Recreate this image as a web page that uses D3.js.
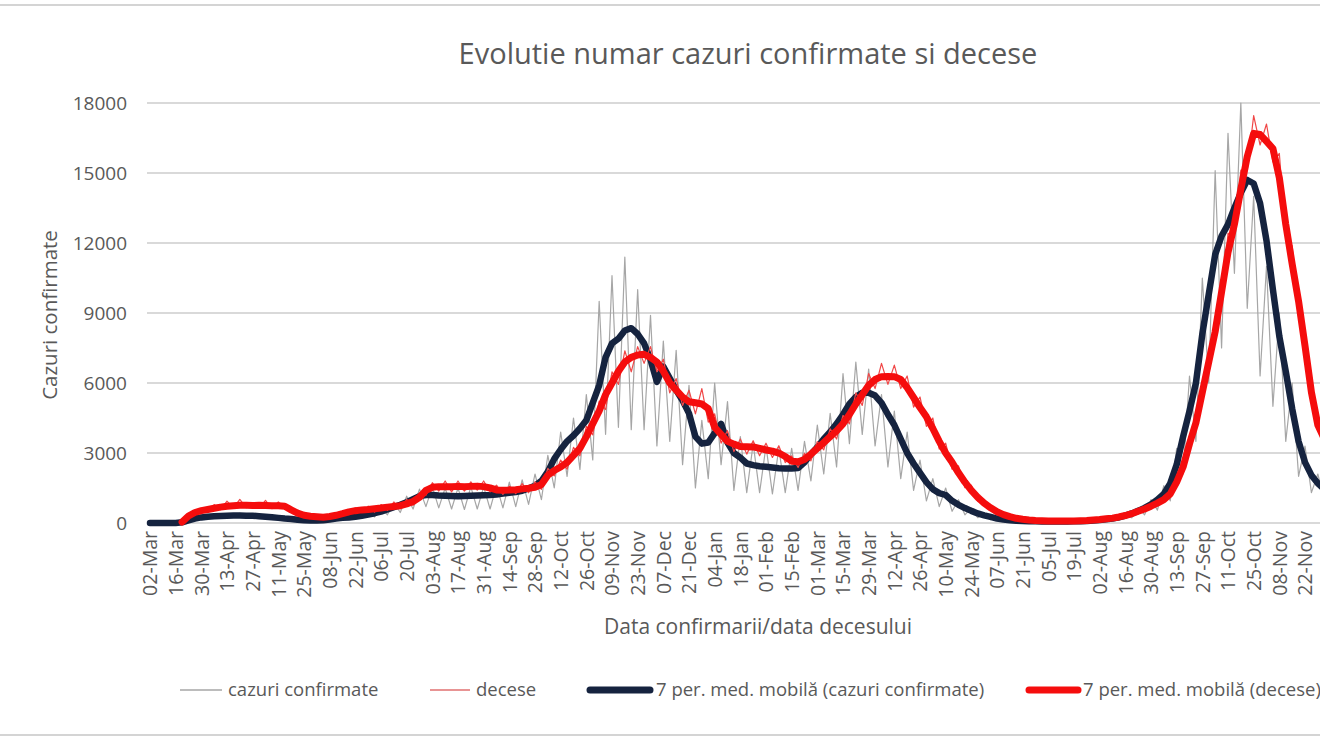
<!DOCTYPE html>
<html>
<head>
<meta charset="utf-8">
<script src="https://cdn.jsdelivr.net/npm/d3@7"></script>
<style>
  body { margin: 0; background: #fff; }
  svg { display: block; font-family: "Open Sans", sans-serif; }
</style>
</head>
<body>
<div id="chart"></div>
<script>
// one sample every 3.5 days, starting 02-Mar-2020
const stepDays = 3.5;

const tickLabels = ["02-Mar","16-Mar","30-Mar","13-Apr","27-Apr","11-May","25-May","08-Jun","22-Jun","06-Jul",
  "20-Jul","03-Aug","17-Aug","31-Aug","14-Sep","28-Sep","12-Oct","26-Oct","09-Nov","23-Nov",
  "07-Dec","21-Dec","04-Jan","18-Jan","01-Feb","15-Feb","01-Mar","15-Mar","29-Mar","12-Apr",
  "26-Apr","10-May","24-May","07-Jun","21-Jun","05-Jul","19-Jul","02-Aug","16-Aug","30-Aug",
  "13-Sep","27-Sep","11-Oct","25-Oct","08-Nov","22-Nov"];

const yTicks = [0, 3000, 6000, 9000, 12000, 15000, 18000];

// cazuri confirmate (daily, sampled)
const casesRaw = [0,0,2,5,15,40,160,150,300,200,
  380,220,400,250,420,230,380,200,350,180,
  290,130,230,100,170,80,150,80,200,120,
  300,160,350,200,460,260,650,350,880,450,
  1150,600,1450,700,1550,650,1500,600,1500,580,
  1550,600,1550,600,1600,650,1750,700,1850,800,
  2100,1000,2900,1500,3900,2000,4500,2300,5500,2700,
  9500,3800,10600,4100,11400,4000,10000,4000,8900,3300,
  7800,3500,7400,2500,5900,1500,4400,1900,6000,2500,
  5200,1400,3700,1300,3400,1300,3300,1250,3200,1300,
  3200,1400,3500,1800,4200,2100,4700,2400,6400,3400,
  6900,3800,6600,3300,5500,2400,4800,1900,3900,1400,
  2700,950,1900,700,1500,500,1000,350,650,230,
  420,140,240,80,150,55,115,45,90,35,
  80,30,80,35,90,45,115,60,170,90,
  240,130,410,220,660,350,1000,550,1600,950,
  3200,2100,6300,3500,10500,6000,15100,7500,16700,10700,
  18000,9200,14000,6300,11000,5000,9000,3500,6000,2000,
  3300,1300,2100,1000];

// decese (daily, sampled) - secondary axis
const deathsRaw = [null,null,null,null,null,1,10,11,17,13,
  22,16,26,18,28,18,24,18,27,17,
  25,18,17,10,12,6,10,5,10,7,
  14,10,18,13,20,13,22,15,25,17,
  28,21,36,33,48,38,50,37,50,38,
  49,39,50,37,45,34,44,35,47,36,
  49,40,65,56,75,64,90,80,115,105,
  145,135,180,165,205,180,210,190,210,180,
  195,155,172,140,158,130,160,120,130,95,
  110,85,100,82,98,80,95,78,92,72,
  80,66,83,74,97,87,112,100,128,118,
  155,140,178,160,190,165,188,160,175,138,
  150,115,125,88,95,64,68,42,45,26,
  28,15,16,8,9,4,5,3,4,2,
  3,2,3,2,3,2,4,3,5,4,
  7,6,10,10,16,15,23,21,32,31,
  55,60,104,110,168,180,245,262,345,340,
  420,420,485,450,475,430,440,340,330,250,
  230,145,130,95];

// 7 per. med. mobila (cazuri confirmate)
const casesAvg = [0,0,0,0,0,30,110,190,240,270,
  290,300,310,320,320,310,310,290,270,250,
  220,190,170,140,120,110,110,120,150,190,
  220,240,270,310,360,420,490,580,680,780,
  890,1020,1150,1200,1200,1180,1170,1160,1150,1160,
  1170,1180,1190,1200,1220,1260,1300,1330,1380,1480,
  1600,1800,2200,2750,3150,3500,3750,4050,4400,5150,
  5900,7100,7700,7900,8250,8350,8100,7700,7000,6050,
  6700,6200,5700,5250,4700,3700,3400,3450,3850,4250,
  3450,3000,2800,2550,2480,2430,2410,2380,2350,2340,
  2340,2360,2600,2950,3250,3600,3900,4250,4650,5100,
  5400,5580,5580,5460,5150,4650,4200,3600,3000,2550,
  2150,1750,1450,1280,1200,950,780,640,520,410,
  330,260,190,150,120,100,90,80,70,65,
  60,60,60,65,70,80,90,110,130,160,
  190,240,320,410,520,650,800,1000,1250,1700,
  2500,3700,4800,6000,8100,9800,11500,12300,12800,13500,
  14150,14700,14550,13700,12100,10000,8000,6500,4900,3500,
  2600,2050,1700,1450];

// 7 per. med. mobila (decese) - secondary axis
const deathsAvg = [null,null,null,null,null,1.1,8.3,12.5,14.7,16.1,
  17.5,18.9,20.0,20.6,21.1,21.1,20.8,21.1,20.8,20.6,
  20.6,20.0,15.6,11.7,9.2,8.1,7.5,6.9,7.8,9.2,
  11.1,13.3,14.7,15.6,16.1,16.9,17.8,18.9,19.7,20.6,
  22.8,25.6,30.6,38.9,42.5,43.3,43.3,43.3,43.6,43.3,
  43.6,43.9,43.3,41.7,39.4,38.9,39.2,39.7,40.6,41.4,
  42.5,45.8,56.9,62.5,66.7,72.2,80.6,88.9,102.8,118.1,
  133.3,152.8,166.7,180.6,191.7,197.2,200.0,200.8,197.2,191.7,
  180.6,166.7,158.3,150.0,144.4,143.1,141.7,136.1,113.9,105.6,
  97.2,93.9,91.1,90.8,90.6,88.9,86.9,85.6,83.3,79.2,
  73.6,72.8,75.6,81.9,88.9,95.8,102.8,109.7,118.1,129.2,
  141.7,152.8,163.9,170.8,174.2,174.4,174.2,170.8,161.1,149.4,
  137.5,126.4,112.5,97.2,83.3,72.2,59.7,48.6,38.9,30.6,
  23.6,18.1,13.3,10.0,7.5,5.6,4.4,3.6,3.1,2.8,
  2.5,2.5,2.5,2.5,2.5,2.8,3.1,3.6,4.2,5.0,
  5.8,7.2,8.9,11.1,13.9,16.7,20.0,23.6,27.8,34.7,
  48.6,66.7,94.4,119.4,155.6,191.7,227.8,275.0,322.2,355.6,
  397.2,436.1,463.9,462.5,454.2,445.8,411.1,355.6,308.3,263.9,
  211.1,155.6,116.7,100.0];

const width = 1320, height = 743;
const textColor = "#595959";
const gridColor = "#d9d9d9";

const svg = d3.select("#chart").append("svg")
    .attr("width", width)
    .attr("height", height);

// chart border (top and bottom edges visible)
svg.append("line").attr("x1", 0).attr("x2", width).attr("y1", 5).attr("y2", 5)
    .attr("stroke", "#d4d4d4").attr("stroke-width", 2);
svg.append("line").attr("x1", 0).attr("x2", width).attr("y1", 735).attr("y2", 735)
    .attr("stroke", "#d4d4d4").attr("stroke-width", 2);

// scales: plot continues past the right edge of the picture
// (deaths use a secondary axis whose labels are outside the picture)
const x = d3.scaleLinear().domain([0, 630]).range([150, 1305]);
const y = d3.scaleLinear().domain([0, 18000]).range([523, 103]);
const y2 = d3.scaleLinear().domain([0, 500]).range([523, 103]);
const plotLeft = 147, plotRight = 1400;

svg.append("text")
    .attr("x", 748).attr("y", 64)
    .attr("text-anchor", "middle")
    .style("font-size", "29px")
    .style("fill", textColor)
    .text("Evolutie numar cazuri confirmate si decese");

// gridlines
svg.append("g").selectAll("line")
    .data(yTicks)
    .enter().append("line")
    .attr("x1", plotLeft).attr("x2", plotRight)
    .attr("y1", d => y(d)).attr("y2", d => y(d))
    .attr("stroke", gridColor).attr("stroke-width", 2);

// y axis
const yAxis = svg.append("g")
    .attr("transform", `translate(${plotLeft},0)`)
    .call(d3.axisLeft(y).tickValues(yTicks).tickFormat(d3.format("d")).tickSize(0).tickPadding(20));
yAxis.select(".domain").remove();
yAxis.selectAll("text")
    .style("font-family", "'Open Sans', sans-serif")
    .style("font-size", "19px")
    .style("fill", textColor);

// x axis
const xAxis = svg.append("g")
    .attr("transform", `translate(0,${y(0)})`)
    .call(d3.axisBottom(x)
        .tickValues(d3.range(0, 631, 14))
        .tickFormat((d, i) => tickLabels[i])
        .tickSize(0));
xAxis.select(".domain").remove();
xAxis.selectAll("text")
    .attr("transform", "rotate(-90)")
    .attr("x", -8)
    .attr("y", 0)
    .attr("dy", "0.35em")
    .style("text-anchor", "end")
    .style("font-family", "'Open Sans', sans-serif")
    .style("font-size", "19.5px")
    .style("fill", textColor);

svg.append("text")
    .attr("x", 758).attr("y", 634)
    .attr("text-anchor", "middle")
    .style("font-size", "21px")
    .style("fill", textColor)
    .text("Data confirmarii/data decesului");

svg.append("text")
    .attr("transform", "translate(57,315) rotate(-90)")
    .attr("text-anchor", "middle")
    .style("font-size", "20.5px")
    .style("fill", textColor)
    .text("Cazuri confirmate");

// lines
const lineFor = scale => d3.line()
    .defined(v => v != null)
    .x((v, i) => x(i * stepDays))
    .y(v => scale(v));

const series = [
    { data: casesRaw, scale: y, color: "#a6a6a6", width: 1.2 },
    { data: casesAvg, scale: y, color: "#15233f", width: 6.5 },
    { data: deathsRaw, scale: y2, color: "#f04848", width: 1.2 },
    { data: deathsAvg, scale: y2, color: "#f50d0d", width: 7 }
];

svg.append("g").selectAll("path")
    .data(series)
    .enter().append("path")
    .attr("d", d => lineFor(d.scale)(d.data))
    .attr("fill", "none")
    .attr("stroke", d => d.color)
    .attr("stroke-width", d => d.width)
    .attr("stroke-linejoin", "round")
    .attr("stroke-linecap", "round");

// legend (centred on the full chart, so the last entry runs past the edge)
const legendItems = [
    { label: "cazuri confirmate", color: "#a6a6a6", width: 1.5, x1: 180, x2: 222, tx: 228 },
    { label: "decese", color: "#e07070", width: 1.5, x1: 430, x2: 470, tx: 476 },
    { label: "7 per. med. mobilă (cazuri confirmate)", color: "#15233f", width: 7, x1: 590, x2: 650, tx: 656 },
    { label: "7 per. med. mobilă (decese)", color: "#f50d0d", width: 7, x1: 1029, x2: 1078, tx: 1083 }
];

const legend = svg.append("g").selectAll("g")
    .data(legendItems)
    .enter().append("g");

legend.append("line")
    .attr("x1", d => d.x1).attr("x2", d => d.x2)
    .attr("y1", 690).attr("y2", 690)
    .attr("stroke", d => d.color)
    .attr("stroke-width", d => d.width)
    .attr("stroke-linecap", d => d.width > 3 ? "round" : "butt");

legend.append("text")
    .attr("x", d => d.tx).attr("y", 690)
    .attr("dy", "0.35em")
    .style("font-size", "18.5px")
    .style("fill", textColor)
    .text(d => d.label);
</script>
</body>
</html>
